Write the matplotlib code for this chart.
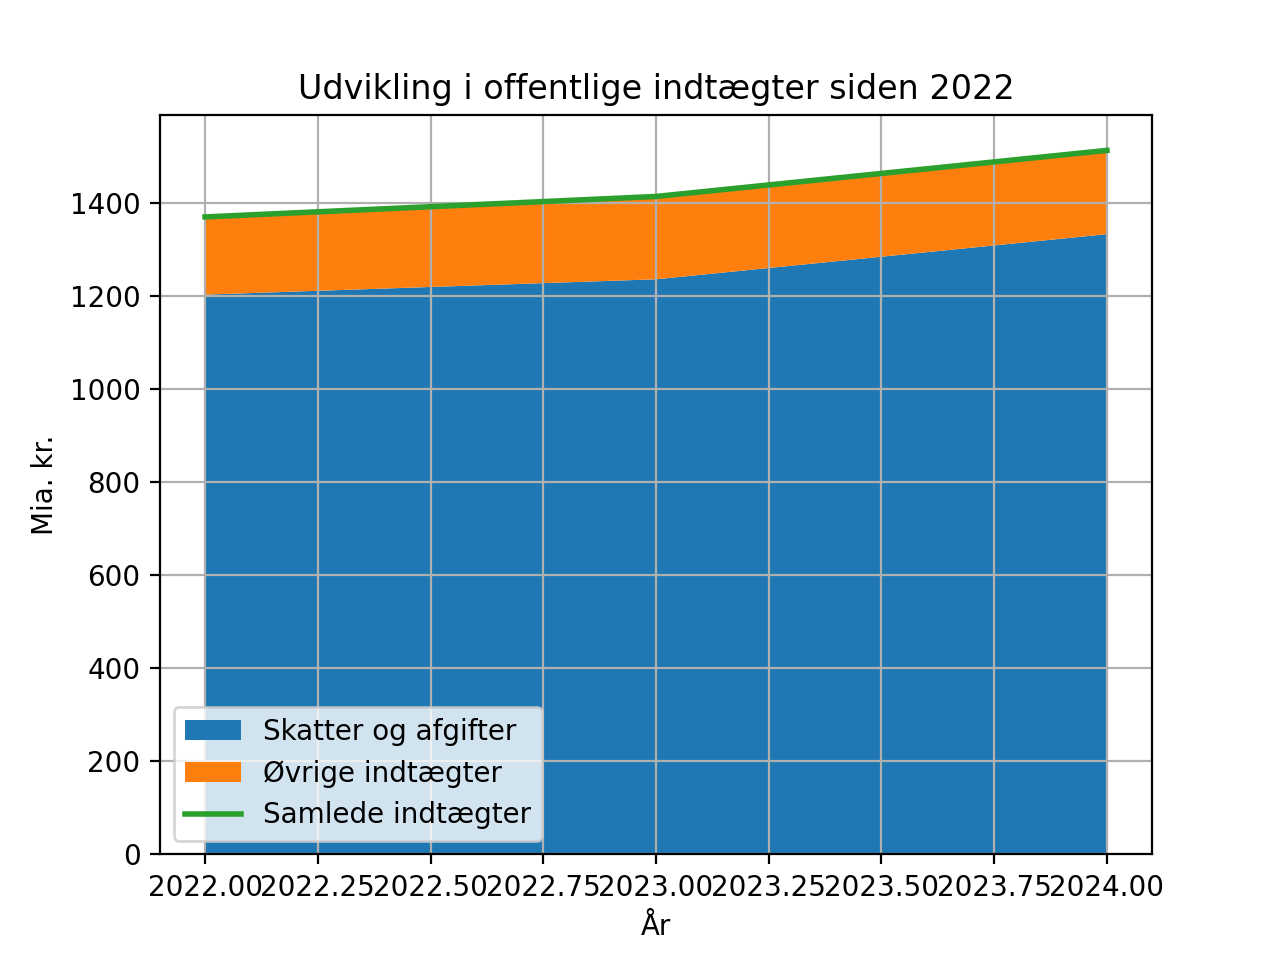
import matplotlib
matplotlib.use("Agg")
import matplotlib.pyplot as plt

aar = [2022, 2023, 2024]
skatter = [1203, 1236, 1333]
oevrige = [167, 178, 180]
samlet = [s + o for s, o in zip(skatter, oevrige)]

fig, ax = plt.subplots(figsize=(6.4, 4.8), dpi=200)
ax.stackplot(aar, skatter, oevrige, labels=["Skatter og afgifter", "Øvrige indtægter"])
ax.plot(aar, samlet, linewidth=2, label="Samlede indtægter")
ax.set_title("Udvikling i offentlige indtægter siden 2022")
ax.set_xlabel("År")
ax.set_ylabel("Mia. kr.")
ax.legend(loc="lower left")
ax.grid(True)

plt.savefig("out.png")
